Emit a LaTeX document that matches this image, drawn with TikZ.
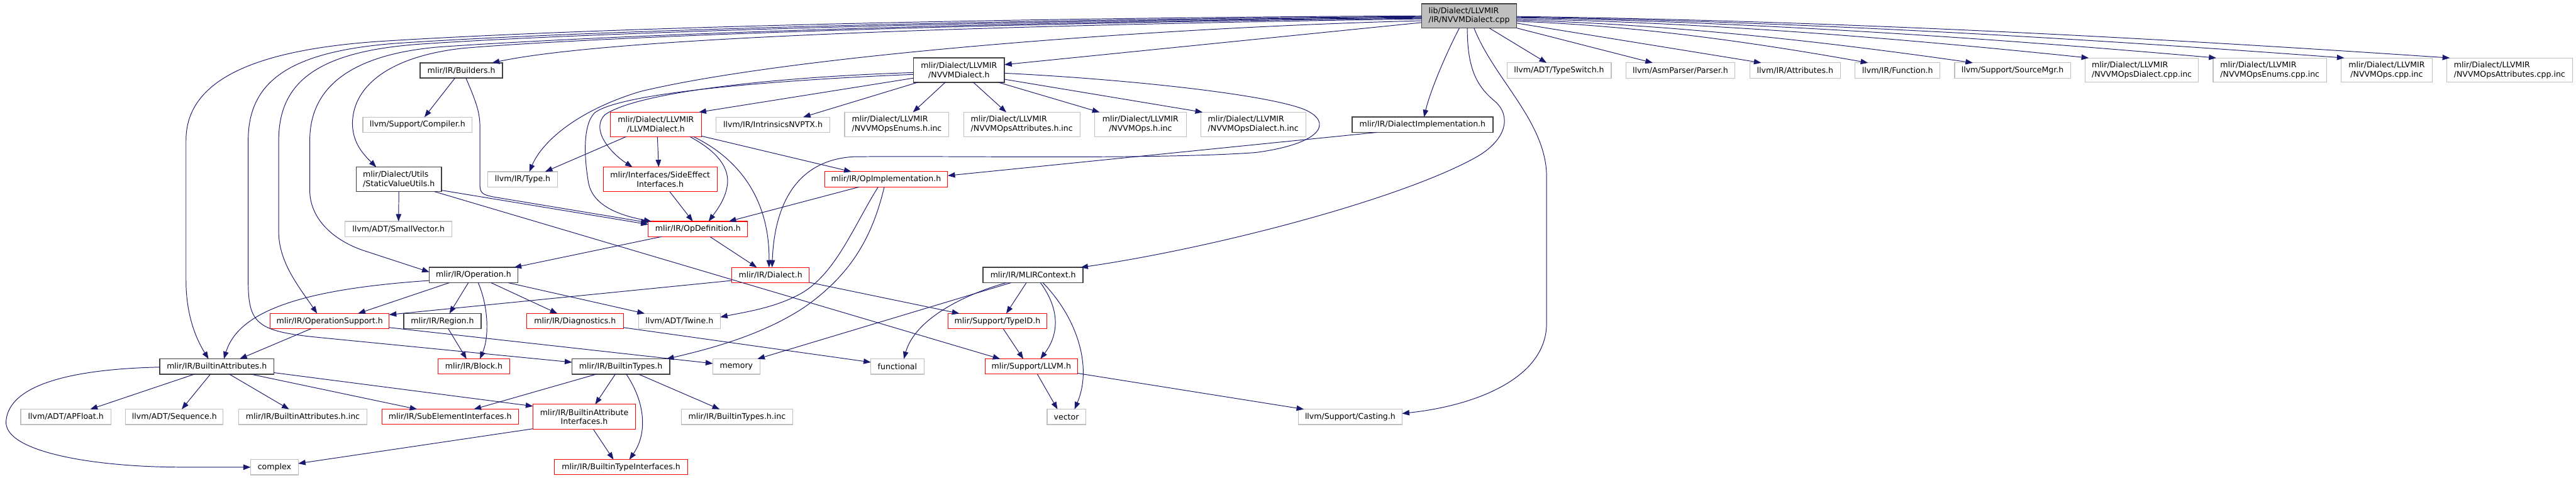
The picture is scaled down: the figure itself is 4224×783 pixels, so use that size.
\documentclass[tikz,border=0pt]{standalone}
\usepackage{fontspec}
\newfontfamily\djv{DejaVu Sans}
\usetikzlibrary{arrows.meta}
\definecolor{edgec}{HTML}{191970}
\definecolor{gfour}{HTML}{404040}
\definecolor{gsev}{HTML}{BFBFBF}
\definecolor{rdc}{HTML}{FF0000}
\tikzset{
 nd/.style={rectangle, inner sep=0pt, outer sep=0pt, fill=white, text=black, minimum height=18.75pt, font=\djv\fontsize{9.7}{11.3}\selectfont},
 bw/.style={minimum width=#1*0.75pt},
 bh/.style={minimum height=#1*0.75pt},
 blkn/.style={nd, draw=gfour, line width=1.2pt},
 redn/.style={nd, draw=rdc, line width=0.8pt},
 gryn/.style={nd, draw=gsev, line width=0.9pt},
 rootn/.style={nd, draw=gfour, fill=gsev, line width=1.2pt},
 dep/.style={draw=edgec, line width=0.75pt, -{Triangle[length=9pt,width=6.6pt]}},
}
\begin{document}
\begin{tikzpicture}[x=0.75pt,y=-0.75pt]
\useasboundingbox (0,0) rectangle (4224,783);
% row 0
\node[rootn,bw=156,bh=40,align=left] (root) at (2409,26) {lib/Dialect/LLVMIR\\/IR/NVVMDialect.cpp};
% row 1
\node[blkn,bw=135] (bld) at (756.5,115.5) {mlir/IR/Builders.h};
\node[blkn,bw=149,bh=40,align=center] (nvd) at (1572.5,115) {mlir/Dialect/LLVMIR\\/NVVMDialect.h};
\node[gryn,bw=171] (tsw) at (2556.5,115.5) {llvm/ADT/TypeSwitch.h};
\node[gryn,bw=179] (prs) at (2755.5,115.5) {llvm/AsmParser/Parser.h};
\node[gryn,bw=149] (attr) at (2943.5,115.5) {llvm/IR/Attributes.h};
\node[gryn,bw=139] (func) at (3111.5,115.5) {llvm/IR/Function.h};
\node[gryn,bw=190] (smg) at (3300,115.5) {llvm/Support/SourceMgr.h};
\node[gryn,bw=186,bh=40,align=left] (cdia) at (3512,115) {mlir/Dialect/LLVMIR\\/NVVMOpsDialect.cpp.inc};
\node[gryn,bw=186,bh=40,align=left] (cenu) at (3722,115) {mlir/Dialect/LLVMIR\\/NVVMOpsEnums.cpp.inc};
\node[gryn,bw=149,bh=40,align=center] (cops) at (3913.5,115) {mlir/Dialect/LLVMIR\\/NVVMOps.cpp.inc};
\node[gryn,bw=206,bh=40,align=left] (catt) at (4115,115) {mlir/Dialect/LLVMIR\\/NVVMOpsAttributes.cpp.inc};
% row 2
\node[gryn,bw=179] (comp) at (684.5,204.5) {llvm/Support/Compiler.h};
\node[redn,bw=149,bh=40,align=center] (llvd) at (1075.5,204) {mlir/Dialect/LLVMIR\\/LLVMDialect.h};
\node[gryn,bw=187] (intr) at (1267.5,204.5) {llvm/IR/IntrinsicsNVPTX.h};
\node[gryn,bw=171,bh=40,align=left] (henu) at (1470.5,204) {mlir/Dialect/LLVMIR\\/NVVMOpsEnums.h.inc};
\node[gryn,bw=191,bh=40,align=left] (hatt) at (1675.5,204) {mlir/Dialect/LLVMIR\\/NVVMOpsAttributes.h.inc};
\node[gryn,bw=150,bh=40,align=center] (hops) at (1870,204) {mlir/Dialect/LLVMIR\\/NVVMOps.h.inc};
\node[gryn,bw=172,bh=40,align=left] (hdia) at (2055,204) {mlir/Dialect/LLVMIR\\/NVVMOpsDialect.h.inc};
\node[blkn,bw=231] (dimp) at (2332.5,204.5) {mlir/IR/DialectImplementation.h};
% row 3
\node[blkn,bw=140,bh=40,align=left] (svu) at (654,294) {mlir/Dialect/Utils\\/StaticValueUtils.h};
\node[gryn,bw=114] (type) at (857,294) {llvm/IR/Type.h};
\node[redn,bw=187,bh=40,align=center] (sei) at (1082.5,294) {mlir/Interfaces/SideEffect\\Interfaces.h};
\node[redn,bw=202] (opi) at (1453,294) {mlir/IR/OpImplementation.h};
% row 4
\node[gryn,bw=175] (svec) at (653.5,375.5) {llvm/ADT/SmallVector.h};
\node[redn,bw=163] (opd) at (1144.5,375.5) {mlir/IR/OpDefinition.h};
% row 5
\node[blkn,bw=145] (oper) at (776.5,451) {mlir/IR/Operation.h};
\node[redn,bw=127] (dial) at (1263.5,451) {mlir/IR/Dialect.h};
\node[blkn,bw=164] (mctx) at (1694,451) {mlir/IR/MLIRContext.h};
% row 6
\node[redn,bw=195] (opsup) at (540.5,526.5) {mlir/IR/OperationSupport.h};
\node[blkn,bw=127] (regn) at (725.5,526.5) {mlir/IR/Region.h};
\node[redn,bw=158] (diag) at (943,526.5) {mlir/IR/Diagnostics.h};
\node[gryn,bw=134] (twn) at (1114,526.5) {llvm/ADT/Twine.h};
\node[redn,bw=161] (tid) at (1635.5,526.5) {mlir/Support/TypeID.h};
% row 7
\node[blkn,bw=187] (battr) at (355.5,601) {mlir/IR/BuiltinAttributes.h};
\node[redn,bw=118] (blockh) at (777,601) {mlir/IR/Block.h};
\node[blkn,bw=160] (btyp) at (1018,601) {mlir/IR/BuiltinTypes.h};
\node[gryn,bw=77] (mem) at (1207.5,601) {memory};
\node[gryn,bw=87] (fnl) at (1471.5,601) {functional};
\node[redn,bw=152] (llvmh) at (1691,601) {mlir/Support/LLVM.h};
% row 8
\node[gryn,bw=148] (apf) at (108,683.5) {llvm/ADT/APFloat.h};
\node[gryn,bw=160] (seq) at (286,683.5) {llvm/ADT/Sequence.h};
\node[gryn,bw=211] (bainc) at (496.5,683.5) {mlir/IR/BuiltinAttributes.h.inc};
\node[redn,bw=224] (sub) at (738,683.5) {mlir/IR/SubElementInterfaces.h};
\node[redn,bw=168,bh=41,align=center] (bai) at (958,683.5) {mlir/IR/BuiltinAttribute\\Interfaces.h};
\node[gryn,bw=183] (btinc) at (1208.5,683.5) {mlir/IR/BuiltinTypes.h.inc};
\node[gryn,bw=63] (vec) at (1748.5,683.5) {vector};
\node[gryn,bw=170] (cast) at (2214,683.5) {llvm/Support/Casting.h};
% row 9
\node[gryn,bw=78] (cplx) at (450,766) {complex};
\node[redn,bw=219] (bti) at (1018.5,766) {mlir/IR/BuiltinTypeInterfaces.h};

% ---- edges from root, left side
\draw[dep] (root.west|-0,26) .. controls (1500,30) and (900,50) .. (620,68) .. controls (420,82) and (305,130) .. (305,230) -- (305,460) .. controls (305,510) and (318,550) .. (342,0|-battr.north);
\draw[dep] (root.west|-0,27) .. controls (1500,33) and (900,54) .. (650,71) .. controls (480,84) and (407,130) .. (407,230) -- (407,460) .. controls (407,530) and (420,543) .. (520,553) -- (btyp.west|-0,594);
\draw[dep] (root.west|-0,28) .. controls (1500,35) and (900,57) .. (680,73) .. controls (520,86) and (457,135) .. (457,230) -- (457,380) .. controls (457,430) and (490,470) .. (520,0|-opsup.north);
\draw[dep] (root.west|-0,29) .. controls (1500,37) and (950,61) .. (720,77) .. controls (580,89) and (508,140) .. (508,230) -- (508,315) .. controls (510,365) and (555,398) .. (600,412) -- (oper.west|-0,446);
\draw[dep] (root.west|-0,30) .. controls (1500,39) and (950,63) .. (760,79) .. controls (640,92) and (580,140) .. (578,200) .. controls (577,235) and (598,255) .. (617,0|-svu.north);
\draw[dep] (root.west|-0,31) .. controls (1600,42) and (1000,62) .. (807,0|-bld.north);
\draw[dep] (root.west|-0,34) .. controls (1900,45) and (1300,90) .. (1050,150) .. controls (950,180) and (890,230) .. (868,0|-type.north);
\draw[dep] (root.west|-0,37) -- (nvd.east|-0,106);
% ---- edges from root, right side
\draw[dep] (2442,0|-root.south) -- (2536,0|-tsw.north);
\draw[dep] (root.south east) -- (2710,0|-prs.north);
\draw[dep] (root.east|-0,38) -- (2888,0|-attr.north);
\draw[dep] (root.east|-0,35) .. controls (2689,42) and (2890,72) .. (3063,0|-func.north);
\draw[dep] (root.east|-0,33) .. controls (2749,40) and (3011,71) .. (3235,0|-smg.north);
\draw[dep] (root.east|-0,31) .. controls (2815,37) and (3144,66) .. (3425,0|-cdia.north);
\draw[dep] (root.east|-0,29) .. controls (2888,36) and (3290,65) .. (3634,0|-cenu.north);
\draw[dep] (root.east|-0,28) .. controls (2962,35) and (3437,65) .. (3844,0|-cops.north);
\draw[dep] (root.east|-0,27) .. controls (3023,34) and (3558,64) .. (4017,0|-catt.north);
% ---- root downward
\draw[dep] (2393,0|-root.south) .. controls (2370,90) and (2345,150) .. (2335,0|-dimp.north);
\draw[dep] (2406,0|-root.south) .. controls (2406,110) and (2420,140) .. (2450,165) .. controls (2480,190) and (2470,230) .. (2420,258) .. controls (2300,325) and (2000,405) .. (1772,0|-mctx.north);
\draw[dep] (2417,0|-root.south) .. controls (2450,130) and (2536,200) .. (2536,290) -- (2536,530) .. controls (2536,620) and (2420,665) .. (cast.east|-0,678);
% ---- NVVMDialect.h
\draw[dep] (1550,0|-nvd.south) -- (1497,0|-henu.north);
\draw[dep] (1596,0|-nvd.south) -- (1650,0|-hatt.north);
\draw[dep] (1637,0|-nvd.south) -- (1803,0|-hops.north);
\draw[dep] (nvd.east|-0,130) -- (1972,0|-hdia.north);
\draw[dep] (nvd.east|-0,120) .. controls (1850,130) and (2080,155) .. (2140,180) .. controls (2185,200) and (2170,235) .. (2060,250) .. controls (1900,262) and (1550,255) .. (1400,257) .. controls (1310,262) and (1270,330) .. (1266,0|-dial.north);
\draw[dep] (nvd.west|-0,128) -- (1146,0|-llvd.north);
\draw[dep] (1505,0|-nvd.south) -- (1317,0|-intr.north);
\draw[dep] (nvd.west|-0,119) .. controls (1300,125) and (1050,148) .. (992,188) .. controls (968,212) and (1000,250) .. (1037,0|-sei.north);
\draw[dep] (nvd.west|-0,122) .. controls (1300,130) and (1020,150) .. (975,185) .. controls (955,205) and (958,260) .. (965,300) .. controls (972,335) and (1010,352) .. (1068,0|-opd.north);
% ---- Builders.h
\draw[dep] (746,0|-bld.south) -- (696,0|-comp.north);
\draw[dep] (764,0|-bld.south) .. controls (782,170) and (787,185) .. (787,210) -- (787,305) .. controls (787,318) and (795,320) .. (810,323) -- (opd.west|-0,365);
% ---- StaticValueUtils.h
\draw[dep] (svu.south) -- (svec.north);
\draw[dep] (svu.east|-0,312) -- (opd.west|-0,368);
\draw[dep] (712,0|-svu.south) -- (1640,0|-llvmh.north);
% ---- LLVMDialect.h
\draw[dep] (1027,0|-llvd.south) -- (894,0|-type.north);
\draw[dep] (1078,0|-llvd.south) -- (1080,0|-sei.north);
\draw[dep] (1131,0|-llvd.south) .. controls (1170,245) and (1195,270) .. (1193,300) .. controls (1191,325) and (1175,345) .. (1162,0|-opd.north);
\draw[dep] (1137,0|-llvd.south) .. controls (1215,262) and (1262,330) .. (1261,0|-dial.north);
\draw[dep] (llvd.east|-0,223) -- (1396,0|-opi.north);
% ---- SideEffectInterfaces.h
\draw[dep] (1098,0|-sei.south) -- (1136,0|-opd.north);
% ---- OpImplementation.h
\draw[dep] (1409,0|-opi.south) -- (1195,0|-opd.north);
\draw[dep] (1440,0|-opi.south) .. controls (1400,370) and (1370,450) .. (1312,482) .. controls (1270,505) and (1220,512) .. (twn.east|-0,520);
\draw[dep] (1450,0|-opi.south) .. controls (1430,390) and (1395,450) .. (1320,503) .. controls (1250,550) and (1160,573) .. (1093,0|-btyp.north);
% ---- DialectImplementation.h
\draw[dep] (2258,0|-dimp.south) -- (opi.east|-0,288);
% ---- OpDefinition.h
\draw[dep] (1085,0|-opd.south) -- (843,0|-oper.north);
\draw[dep] (1164,0|-opd.south) -- (1241,0|-dial.north);
% ---- Operation.h
\draw[dep] (oper.west|-0,460) .. controls (480,475) and (390,515) .. (367,0|-battr.north);
\draw[dep] (737,0|-oper.south) -- (587,0|-opsup.north);
\draw[dep] (768,0|-oper.south) -- (737,0|-regn.north);
\draw[dep] (784,0|-oper.south) .. controls (800,500) and (803,550) .. (787,0|-blockh.north);
\draw[dep] (805,0|-oper.south) -- (914,0|-diag.north);
\draw[dep] (833,0|-oper.south) -- (1057,0|-twn.north);
% ---- Dialect.h
\draw[dep] (dial.west|-0,460) -- (opsup.east|-0,516);
\draw[dep] (dial.east|-0,463) -- (1573,0|-tid.north);
% ---- MLIRContext.h
\draw[dep] (1658,0|-mctx.south) -- (1242,0|-mem.north);
\draw[dep] (1650,0|-mctx.south) .. controls (1575,485) and (1500,525) .. (1482,0|-fnl.north);
\draw[dep] (1683,0|-mctx.south) -- (1650,0|-tid.north);
\draw[dep] (1706,0|-mctx.south) .. controls (1740,510) and (1735,550) .. (1706,0|-llvmh.north);
\draw[dep] (1710,0|-mctx.south) .. controls (1765,520) and (1792,600) .. (1762,0|-vec.north);
% ---- OperationSupport.h
\draw[dep] (510,0|-opsup.south) -- (393,0|-battr.north);
\draw[dep] (opsup.east|-0,537) -- (mem.west|-0,596);
% ---- Region, Diagnostics, TypeID, LLVM
\draw[dep] (735,0|-regn.south) -- (765,0|-blockh.north);
\draw[dep] (diag.east|-0,537) -- (fnl.west|-0,594);
\draw[dep] (1645,0|-tid.south) -- (1678,0|-llvmh.north);
\draw[dep] (1701,0|-llvmh.south) -- (1734,0|-vec.north);
\draw[dep] (llvmh.east|-0,612) -- (2138,0|-cast.north);
% ---- BuiltinAttributes.h
\draw[dep] (battr.west|-0,602) .. controls (120,605) and (15,630) .. (10,690) .. controls (5,740) and (150,766) .. (300,766) -- (cplx.west);
\draw[dep] (319,0|-battr.south) -- (148,0|-apf.north);
\draw[dep] (345,0|-battr.south) -- (298,0|-seq.north);
\draw[dep] (376,0|-battr.south) -- (474,0|-bainc.north);
\draw[dep] (411,0|-battr.south) -- (684,0|-sub.north);
\draw[dep] (battr.east|-0,611) -- (bai.west|-0,666);
% ---- BuiltinTypes.h
\draw[dep] (978,0|-btyp.south) -- (777,0|-sub.north);
\draw[dep] (1009,0|-btyp.south) -- (976,0|-bai.north);
\draw[dep] (1027,0|-btyp.south) .. controls (1058,660) and (1062,710) .. (1032,0|-bti.north);
\draw[dep] (1047,0|-btyp.south) -- (1180,0|-btinc.north);
% ---- BuiltinAttributeInterfaces.h
\draw[dep] (973,0|-bai.south) -- (1006,0|-bti.north);
\draw[dep] (bai.west|-0,703) -- (cplx.east|-0,760);
\end{tikzpicture}
\end{document}
